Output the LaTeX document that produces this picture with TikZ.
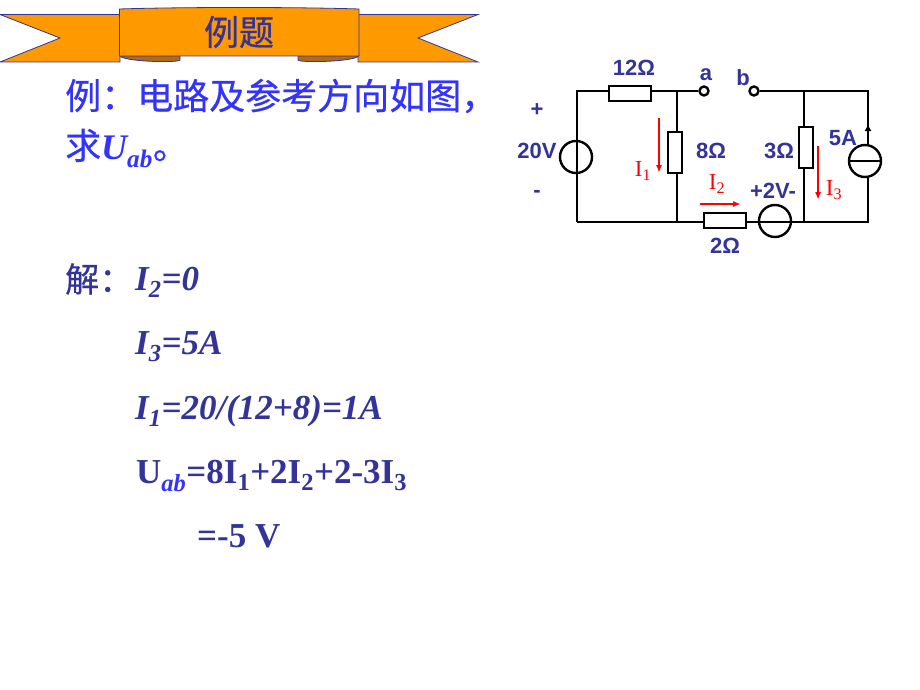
\documentclass[tikz,border=0pt]{standalone}
\usepackage{fontspec}
\setmainfont{Liberation Serif}
\setsansfont{Liberation Sans}
\newfontfamily\cjk[FakeBold=0.6]{Noto Sans CJK SC}
\usetikzlibrary{arrows.meta}
\definecolor{navy}{HTML}{333399}
\definecolor{brightblue}{HTML}{3333FF}
\definecolor{ribbon}{HTML}{FF9900}
\definecolor{fold}{HTML}{B26B14}
\tikzset{
	wire/.style={line width=2.4pt,black},
	res/.style={draw,line width=2.4pt,fill=white,minimum width=#1,minimum height=14.5pt,inner sep=0pt},
	vres/.style={draw,line width=2.4pt,fill=white,minimum width=14.5pt,minimum height=#1,inner sep=0pt},
	src/.style={circle,draw,line width=2.4pt,minimum size=32pt,inner sep=0pt},
	term/.style={circle,draw,line width=2.4pt,fill=white,minimum size=9pt,inner sep=0pt},
	lab/.style={navy,font=\fontsize{22}{22}\sffamily\bfseries,inner sep=0pt},
	cur/.style={red,font=\fontsize{23}{23}\rmfamily,inner sep=0pt},
	curarrow/.style={red,line width=1.6pt,-{Latex[length=8pt,width=6pt]}},
	ask/.style={brightblue,font=\fontsize{36}{36}\bfseries\itshape,anchor=base west,inner sep=0pt},
	sol/.style={navy,font=\fontsize{35}{35}\bfseries\itshape,anchor=base west,inner sep=0pt},
	edge/.style={draw=navy,line width=0.8pt}
}
\begin{document}
\begin{tikzpicture}[x=1pt,y=-1pt]
	\useasboundingbox (0,0) rectangle (920,690);
	\fill[white] (0,0) rectangle (920,690);
	% ribbon
	\draw[edge,fill=ribbon] (0,14.5) -- (120,14.5) -- (120,62) -- (0,62) -- (60,38) -- cycle;
	\draw[edge,fill=ribbon] (478,14.5) -- (358,14.5) -- (358,62) -- (478,62) -- (418,38) -- cycle;
	\draw[edge,fill=fold] (119.5,55) .. controls (119.5,62) and (180,63) .. (180,60) -- (180,55) -- cycle;
	\draw[edge,fill=fold] (359,55) .. controls (359,62) and (298,63) .. (298,60) -- (298,55) -- cycle;
	\draw[edge,fill=ribbon] (119.5,9) .. controls (180,7) and (298,7) .. (359,9) -- (359,56) -- (119.5,56) -- cycle;
	\node[navy,font=\fontsize{35}{35}\cjk,inner sep=0pt] (title) at (239,32) {例题};
	% question
	\node[brightblue,font=\fontsize{36}{36}\cjk,anchor=west,inner sep=0pt] (ask1) at (65,96) {例：电路及参考方向如图，};
	\node[ask] (ask2) at (65,159) {{\cjk\upshape\mdseries 求}U\textsubscript{ab}{\cjk\upshape\mdseries 。}};
	% solution
	\node[navy,font=\fontsize{34}{34}\cjk,anchor=west,inner sep=0pt] (jie) at (65,279) {解：};
	\node[sol] (s1) at (135,290) {I\textsubscript{2}=0};
	\node[sol] (s2) at (135,354) {I\textsubscript{3}=5A};
	\node[sol] (s3) at (135,419) {I\textsubscript{1}=20/(12+8)=1A};
	\node[sol] (s4) at (136,483) {\upshape U\textsubscript{\itshape\color{brightblue}ab}=8I\textsubscript{1}+2I\textsubscript{2}+2-3I\textsubscript{3}};
	\node[sol] (s5) at (197,547) {\upshape =-5 V};
	% circuit
	\coordinate (lt) at (577,91);
	\coordinate (lb) at (577,222);
	\coordinate (mt) at (677,91);
	\coordinate (mb) at (677,222);
	\coordinate (rt) at (804,91);
	\coordinate (rb) at (804,222);
	\coordinate (et) at (868,91);
	\coordinate (eb) at (868,222);
	\coordinate (tail) at (868,145.5);
	\coordinate (foot) at (868,176.5);
	\coordinate (tip) at (868,124);
	\node[res=42pt] (r12) at (630,93.5) {};
	\node[vres=41pt] (r8) at (675,152.5) {};
	\node[vres=41pt] (r3) at (806,147.5) {};
	\node[res=42pt] (r2) at (725,220.5) {};
	\node[term] (a) at (704,91) {};
	\node[term] (b) at (754,91) {};
	\node[src] (v20) at (576,157) {};
	\node[src] (v2) at (775,221) {};
	\node[src] (i5) at (865,161) {};
	\draw[wire] (lb) -- (lt) -- (r12.west |- lt);
	\draw[wire] (r12.east |- mt) -- (mt) -- (a);
	\draw[wire] (lb) -- (r2.west |- lb);
	\draw[wire] (r2.east |- eb) -- (eb) -- (foot);
	\draw[wire] (b) -- (et) -- (tail);
	\draw[wire] (mt) -- (mt |- r8.north);
	\draw[wire] (mb |- r8.south) -- (mb);
	\draw[wire] (rt) -- (rt |- r3.north);
	\draw[wire] (rb |- r3.south) -- (rb);
	\draw[wire] (i5.west) -- (i5.east);
	\draw[wire,-{Latex[length=7pt,width=7pt]}] (tail) -- (tip);
	% labels
	\node[lab] (l12) at (634,68) {12Ω};
	\node[lab] (la) at (706,75) {a};
	\node[lab] (lb2) at (743,78) {b};
	\node[lab] (plus) at (537,110) {+};
	\node[lab] (l20) at (537,151) {20V};
	\node[lab] (minus) at (537,194) {-};
	\node[lab] (l8) at (711,151) {8Ω};
	\node[lab] (l3) at (779,151) {3Ω};
	\node[lab] (l5) at (843,138) {5A};
	\node[lab] (lv) at (773,191) {+2V-};
	\node[lab] (l2) at (725,246) {2Ω};
	% currents
	\node[cur] (i1) at (643,171) {I\textsubscript{1}};
	\node[cur] (i2) at (717,184) {I\textsubscript{2}};
	\node[cur] (i3) at (834,190) {I\textsubscript{3}};
	\coordinate (a1s) at (659,118);
	\coordinate (a1e) at (659,173);
	\coordinate (a2s) at (700,204);
	\coordinate (a2e) at (741,204);
	\coordinate (a3s) at (818,146);
	\coordinate (a3e) at (818,200);
	\draw[curarrow] (a1s) -- (a1e);
	\draw[curarrow] (a2s) -- (a2e);
	\draw[curarrow] (a3s) -- (a3e);
\end{tikzpicture}
\end{document}
